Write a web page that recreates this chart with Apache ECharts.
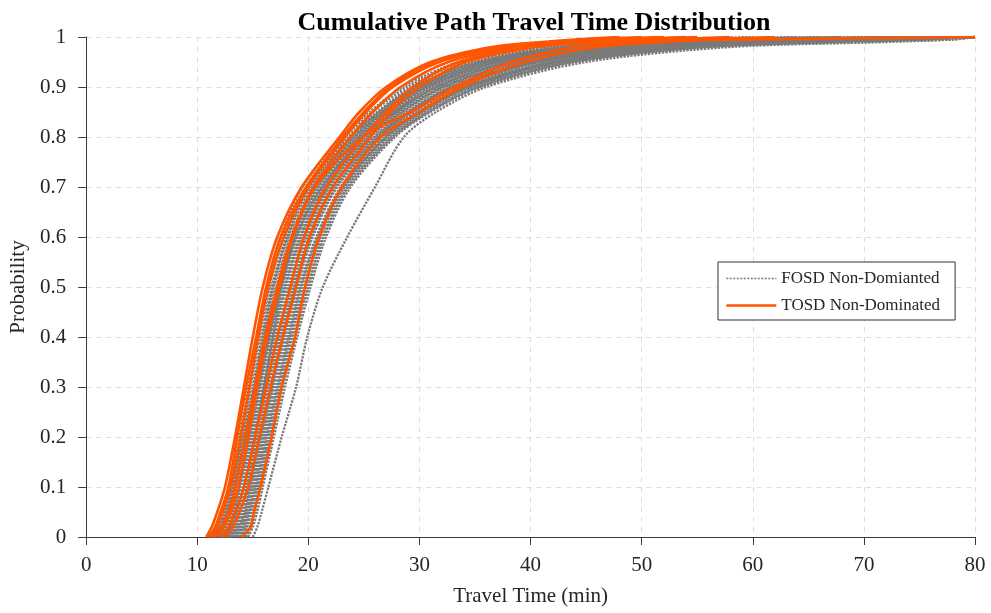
<!DOCTYPE html>
<html>
<head>
<meta charset="utf-8">
<script src="https://cdn.jsdelivr.net/npm/echarts@6/dist/echarts.min.js"></script>
<style>
html,body{margin:0;padding:0;background:#fff;}
#chart{width:991px;height:613px;}
</style>
</head>
<body>
<div id="chart"></div>
<script>
// probability levels (y) at which each path's travel time (x, minutes) was read
const probLevels = [0, 0.02, 0.05, 0.1, 0.2, 0.3, 0.4, 0.5, 0.6, 0.7, 0.8, 0.85, 0.9, 0.95, 0.98, 0.99, 0.995, 1];

// FOSD non-dominated paths (gray dotted)
const fosdTimes = [
  [11.0,11.8,12.3,12.9,13.8,14.6,15.4,16.3,17.5,19.5,23.0,25.5,28.5,33.5,40.0,45.0,50.0,60.0],
  [11.2,12.0,12.5,13.1,14.0,14.8,15.6,16.5,17.7,19.8,23.3,25.8,28.9,34.0,41.0,47.0,53.0,64.0],
  [11.3,12.0,12.6,13.2,14.2,15.1,15.9,16.8,18.1,20.1,23.7,26.3,29.5,35.0,42.5,49.5,56.5,68.0],
  [11.5,12.2,12.7,13.2,14.1,15.0,15.8,16.7,18.0,20.0,23.6,26.2,29.3,34.8,42.0,49.0,56.0,66.0],
  [11.6,12.3,12.8,13.4,14.3,15.1,16.0,16.9,18.2,20.3,23.9,26.4,29.6,35.2,43.0,50.0,57.0,70.0],
  [11.8,12.4,12.9,13.5,14.5,15.3,16.2,17.2,18.5,20.6,24.3,26.8,30.1,36.0,44.5,52.5,60.0,73.0],
  [11.9,12.5,13.0,13.5,14.4,15.3,16.1,17.1,18.4,20.5,24.1,26.7,29.9,35.6,44.0,52.0,59.0,72.0],
  [12.0,12.6,13.1,13.7,14.6,15.4,16.3,17.3,18.6,20.7,24.2,26.9,30.3,36.3,45.0,53.0,61.0,74.0],
  [12.1,12.8,13.3,13.8,14.7,15.6,16.5,17.4,18.8,20.8,24.5,27.1,30.5,36.6,45.5,54.0,62.0,75.0],
  [12.2,12.8,13.2,13.8,14.8,15.6,16.5,17.5,18.9,20.9,24.6,27.3,30.7,37.0,46.0,54.5,62.5,76.0],
  [12.3,12.9,13.4,13.9,14.9,15.7,16.6,17.6,19.0,21.1,24.7,27.4,30.9,37.2,46.5,55.0,63.0,76.0],
  [12.4,13.0,13.5,14.1,15.0,15.9,16.8,17.8,19.2,21.3,24.9,27.7,31.3,37.7,47.0,56.0,65.0,78.0],
  [12.5,13.1,13.6,14.2,15.1,16.0,16.9,17.9,19.3,21.4,25.0,27.9,31.5,38.0,47.5,56.5,65.5,80.0],
  [12.6,13.2,13.6,14.2,15.2,16.1,17.0,18.0,19.4,21.5,25.2,28.0,31.6,38.1,48.0,57.0,66.0,80.0],
  [12.7,13.3,13.8,14.4,15.3,16.2,17.2,18.2,19.6,21.7,25.4,28.2,32.0,38.7,48.5,58.0,67.0,80.0],
  [12.8,13.4,13.9,14.5,15.4,16.3,17.3,18.3,19.7,21.8,25.5,28.4,32.1,39.0,49.0,58.5,67.5,80.0],
  [12.9,13.5,13.9,14.5,15.5,16.4,17.4,18.4,19.8,21.9,25.6,28.5,32.3,39.3,49.5,59.0,68.0,80.0],
  [13.0,13.6,14.1,14.7,15.6,16.6,17.5,18.6,20.0,22.1,25.9,28.8,32.7,39.8,50.0,60.0,69.0,80.0],
  [13.1,13.7,14.2,14.7,15.7,16.7,17.6,18.7,20.1,22.2,26.0,29.0,32.9,40.2,50.5,60.5,69.5,80.0],
  [13.3,13.8,14.3,14.8,15.8,16.7,17.7,18.8,20.2,22.3,26.2,29.1,33.0,40.5,51.0,61.0,70.0,80.0],
  [13.4,13.9,14.4,14.9,15.9,16.8,17.8,18.9,20.3,22.5,26.3,29.3,33.3,40.8,51.5,62.0,70.5,80.0],
  [13.5,14.0,14.4,15.0,16.0,16.9,17.9,19.0,20.4,22.6,26.4,29.4,33.5,41.0,52.0,63.0,71.0,80.0],
  [13.6,14.1,14.5,15.1,16.1,17.1,18.1,19.2,20.7,22.9,26.7,29.7,33.9,41.7,53.0,64.0,72.0,80.0],
  [13.7,14.2,14.6,15.2,16.2,17.2,18.2,19.3,20.8,23.0,26.9,29.9,34.1,42.0,53.5,64.5,72.5,80.0],
  [13.9,14.3,14.7,15.3,16.3,17.3,18.3,19.4,20.9,23.1,27.0,30.1,34.3,42.3,54.0,65.0,73.0,80.0],
  [14.0,14.4,14.8,15.4,16.4,17.4,18.4,19.6,21.0,23.2,27.1,30.2,34.5,42.6,54.5,65.5,73.5,80.0],
  [14.1,14.5,14.9,15.5,16.5,17.5,18.5,19.7,21.1,23.3,27.3,30.4,34.7,43.0,55.0,66.0,74.0,80.0],
  [14.3,14.7,15.1,15.6,16.6,17.6,18.7,19.9,21.3,23.5,27.5,30.7,35.1,43.5,55.5,67.0,75.0,80.0],
  [14.4,14.8,15.2,15.7,16.7,17.7,18.8,20.0,21.4,23.6,27.6,30.8,35.3,43.8,55.8,68.0,76.0,80.0],
  [14.6,15.0,15.4,15.9,16.9,17.9,19.0,20.2,21.6,23.8,27.8,31.0,35.5,44.0,56.0,70.0,78.0,80.0],
  [15.0,15.4,15.8,16.4,17.6,18.9,19.9,21.3,23.5,26.0,28.6,31.5,36.0,45.0,58.0,72.0,78.0,80.0],
  [11.4,12.1,12.6,13.3,14.4,15.4,16.4,17.5,18.7,20.4,23.8,26.6,30.0,35.8,43.5,51.0,58.0,68.0],
  [12.2,12.9,13.5,14.2,15.2,16.0,16.8,17.6,18.9,21.2,25.0,27.7,31.0,37.0,46.0,55.0,64.0,77.0]
];

// TOSD non-dominated paths (orange solid)
const tosdTimes = [
  [10.8,11.3,11.8,12.5,13.4,14.2,15.0,15.9,17.2,19.4,22.8,24.6,27.0,31.0,36.5,41.0,44.0,48.0],
  [11.2,11.8,12.3,13.0,13.9,14.7,15.5,16.4,17.8,20.0,23.3,25.2,27.6,31.8,37.5,42.0,45.0,50.0],
  [11.5,12.2,12.8,13.4,14.3,15.2,16.1,17.2,18.5,20.5,23.8,25.8,28.3,32.6,38.5,43.0,46.0,52.0],
  [11.8,12.4,13.0,13.7,14.6,15.4,16.3,17.4,18.6,20.6,24.9,29.2,33.2,38.3,44.0,49.0,53.0,58.0],
  [12.2,12.8,13.4,14.2,15.2,16.2,17.2,18.4,19.6,21.6,25.0,27.0,29.4,33.5,39.5,45.0,49.0,54.0],
  [14.0,14.8,15.1,15.7,16.7,17.6,18.8,19.7,21.0,23.0,26.5,30.0,33.8,39.5,46.0,52.0,56.0,62.0],
  [12.5,13.2,13.8,14.6,15.6,16.6,17.7,18.9,20.1,22.2,25.6,27.4,30.0,34.2,40.5,46.0,50.0,55.0],
  [11.0,11.6,12.1,12.8,13.6,14.4,15.3,16.2,17.5,19.8,23.1,25.0,27.3,31.3,37.0,42.0,60.0,80.0]
];

const fosdName = 'FOSD Non-Domianted';
const tosdName = 'TOSD Non-Dominated';
const xTicks = {min: 0, max: 80, interval: 10};
const yTicks = {min: 0, max: 1, interval: 0.1};

const FONT = '"Liberation Serif","Times New Roman",serif';
const TXT = '#262626';
const GRAY = '#7a7a7a';
const ORANGE = '#ff5500';

const series = [];
fosdTimes.forEach(ts => {
  series.push({
    type: 'line', name: fosdName, silent: true, symbol: 'none', showSymbol: false,
    smooth: 0.3,
    data: ts.map((t, i) => [t, probLevels[i]]),
    lineStyle: {color: GRAY, width: 2.3, type: [2.3, 1.2]},
    itemStyle: {color: GRAY},
    z: 2
  });
});
tosdTimes.forEach(ts => {
  series.push({
    type: 'line', name: tosdName, silent: true, symbol: 'none', showSymbol: false,
    smooth: 0.3,
    data: ts.map((t, i) => [t, probLevels[i]]),
    lineStyle: {color: ORANGE, width: 2.6},
    itemStyle: {color: ORANGE},
    z: 3
  });
});

const chart = echarts.init(document.getElementById('chart'), null, {renderer: 'canvas'});
chart.setOption({
  animation: false,
  backgroundColor: '#ffffff',
  title: {
    text: 'Cumulative Path Travel Time Distribution',
    left: 529, top: 5, textAlign: 'center',
    textStyle: {fontFamily: FONT, fontSize: 26, fontWeight: 'bold', color: '#000'}
  },
  grid: {left: 83, right: 16, top: 37, bottom: 76, containLabel: false},
  legend: {
    left: 718, top: 262, orient: 'vertical',
    data: [
      {name: fosdName, itemStyle: {opacity: 0}, lineStyle: {color: GRAY, width: 1.5, type: [2, 1.5]}},
      {name: tosdName, itemStyle: {opacity: 0}, lineStyle: {color: ORANGE, width: 2.6, type: 'solid'}}
    ],
    itemWidth: 50, itemHeight: 14, itemGap: 10,
    padding: [8, 15, 6, 7],
    backgroundColor: '#fff', borderColor: '#333', borderWidth: 1,
    textStyle: {fontFamily: FONT, fontSize: 17, color: TXT}
  },
  xAxis: {
    type: 'value', min: xTicks.min, max: xTicks.max, interval: xTicks.interval,
    name: 'Travel Time (min)', nameLocation: 'middle', nameGap: 49,
    nameTextStyle: {fontFamily: FONT, fontSize: 21, color: TXT},
    axisLine: {show: true, lineStyle: {color: '#3c3c3c', width: 1}},
    axisTick: {show: true, length: 8, inside: false, lineStyle: {color: '#3c3c3c'}},
    axisLabel: {fontFamily: FONT, fontSize: 21, color: TXT, margin: 18},
    splitLine: {show: true, lineStyle: {color: '#dddddd', type: [5, 5], width: 1}}
  },
  yAxis: {
    type: 'value', min: yTicks.min, max: yTicks.max, interval: yTicks.interval,
    name: 'Probability', nameLocation: 'middle', nameGap: 52, nameRotate: 90,
    nameTextStyle: {fontFamily: FONT, fontSize: 21, color: TXT},
    axisLine: {show: true, lineStyle: {color: '#3c3c3c', width: 1}},
    axisTick: {show: true, length: 8, inside: false, lineStyle: {color: '#3c3c3c'}},
    axisLabel: {fontFamily: FONT, fontSize: 21, color: TXT, margin: 20},
    splitLine: {show: true, lineStyle: {color: '#dddddd', type: [5, 5], width: 1}}
  },
  series: series
});
</script>
</body>
</html>
